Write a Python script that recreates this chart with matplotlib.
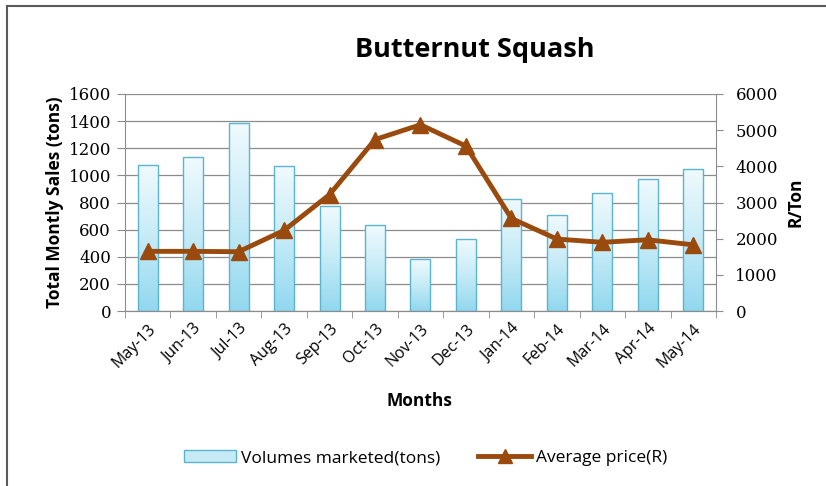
import numpy as np
import matplotlib
matplotlib.use("Agg")
import matplotlib.pyplot as plt
from matplotlib.colors import LinearSegmentedColormap
from matplotlib.lines import Line2D
from matplotlib.patches import Patch

months = ["May-13", "Jun-13", "Jul-13", "Aug-13", "Sep-13", "Oct-13", "Nov-13",
          "Dec-13", "Jan-14", "Feb-14", "Mar-14", "Apr-14", "May-14"]
volumes = [1080, 1135, 1385, 1068, 775, 632, 381, 528, 826, 708, 872, 976, 1049]
prices = [1650, 1650, 1640, 2230, 3220, 4740, 5150, 4560, 2560, 1990, 1900, 1970, 1830]
left_ticks = list(range(0, 1601, 200))
right_ticks = list(range(0, 6001, 1000))

sans = ["Open Sans", "DejaVu Sans"]
serif = ["DejaVu Serif"]

fig = plt.figure(figsize=(8.26, 4.86), dpi=100)
ax = fig.add_axes([0.1513, 0.36, 0.7155, 0.4466])
ax2 = ax.twinx()

x = np.arange(len(months))
bw = 0.44
edge = "#5bb5cf"
cmap = LinearSegmentedColormap.from_list("g", ["#92d8ef", "#c6ebf7", "#f0fafd"])
bars = ax.bar(x, volumes, width=bw, facecolor="none", edgecolor=edge, linewidth=1.0, zorder=3)
grad = np.linspace(0, 1, 256).reshape(-1, 1)
for b in bars:
    bx, by = b.get_x(), b.get_y()
    w, h = b.get_width(), b.get_height()
    im = ax.imshow(grad, cmap=cmap, origin="lower", aspect="auto",
                   extent=[bx, bx + w, by, by + h], zorder=2.5)
    im.set_clip_path(b)

ax.set_xlim(-0.5, len(months) - 0.5)
ax.set_ylim(0, 1600)
ax.set_yticks(left_ticks)
ax.set_yticklabels([str(v) for v in left_ticks], fontfamily=serif, fontsize=12)
ax.yaxis.grid(True, color="#8c8c8c", linewidth=0.9, zorder=0)
ax.set_axisbelow(True)
ax.set_xticks(x)
ax.set_xticklabels(months, rotation=45, ha="right", rotation_mode="anchor",
                   fontfamily=sans, fontsize=11.5)
ax.set_xticks(np.arange(-0.5, len(months), 1), minor=True)
ax.tick_params(axis="x", which="major", length=0, pad=7)
ax.tick_params(axis="x", which="minor", length=5, color="#8c8c8c", direction="out")
ax.tick_params(axis="y", length=6, color="#8c8c8c", direction="out", pad=4)

ax2.set_ylim(0, 6000)
ax2.set_yticks(right_ticks)
ax2.set_yticklabels([str(v) for v in right_ticks], fontfamily=serif, fontsize=12)
ax2.tick_params(axis="y", length=5, color="#8c8c8c", direction="out", pad=9)
line_color = "#9a4a0c"
ax2.plot(x, prices, color=line_color, linewidth=3.5, marker="^", markersize=11,
         markerfacecolor=line_color, markeredgecolor=line_color, zorder=5)

for a in (ax, ax2):
    a.spines["top"].set_visible(False)
    for s in ("left", "right", "bottom"):
        a.spines[s].set_color("#8c8c8c")
ax2.spines["left"].set_visible(False)
ax.spines["right"].set_visible(False)

ax.set_ylabel("Total Montly Sales (tons)", fontfamily=sans, fontweight="bold", fontsize=12.5, labelpad=3)
ax2.set_ylabel("R/Ton", fontfamily=sans, fontweight="bold", fontsize=12.5, labelpad=6)
fig.text(0.508, 0.175, "Months", fontfamily=sans, fontweight="bold", fontsize=12.5,
         ha="center", va="center")
fig.text(0.575, 0.897, "Butternut Squash", fontfamily=sans, fontweight="bold", fontsize=19.5,
         ha="center", va="center")

handles = [Patch(facecolor="#c6ebf7", edgecolor=edge, linewidth=1.0),
           Line2D([0], [0], color=line_color, linewidth=3.5, marker="^", markersize=10)]
fig.legend(handles, ["Volumes marketed(tons)", "Average price(R)"], loc="center",
           bbox_to_anchor=(0.515, 0.057), ncol=2, frameon=False,
           prop={"family": sans, "size": 12.5}, handlelength=3.0, handletextpad=0.3,
           columnspacing=2.2)

# frame lines on left and top
fig.add_artist(Line2D([0.0085, 0.0085], [0, 0.987], color="#5a5a5a", linewidth=1.5,
                      transform=fig.transFigure))
fig.add_artist(Line2D([0.0085, 1.0], [0.987, 0.987], color="#5a5a5a", linewidth=1.5,
                      transform=fig.transFigure))

fig.savefig("out.png", dpi=100)
